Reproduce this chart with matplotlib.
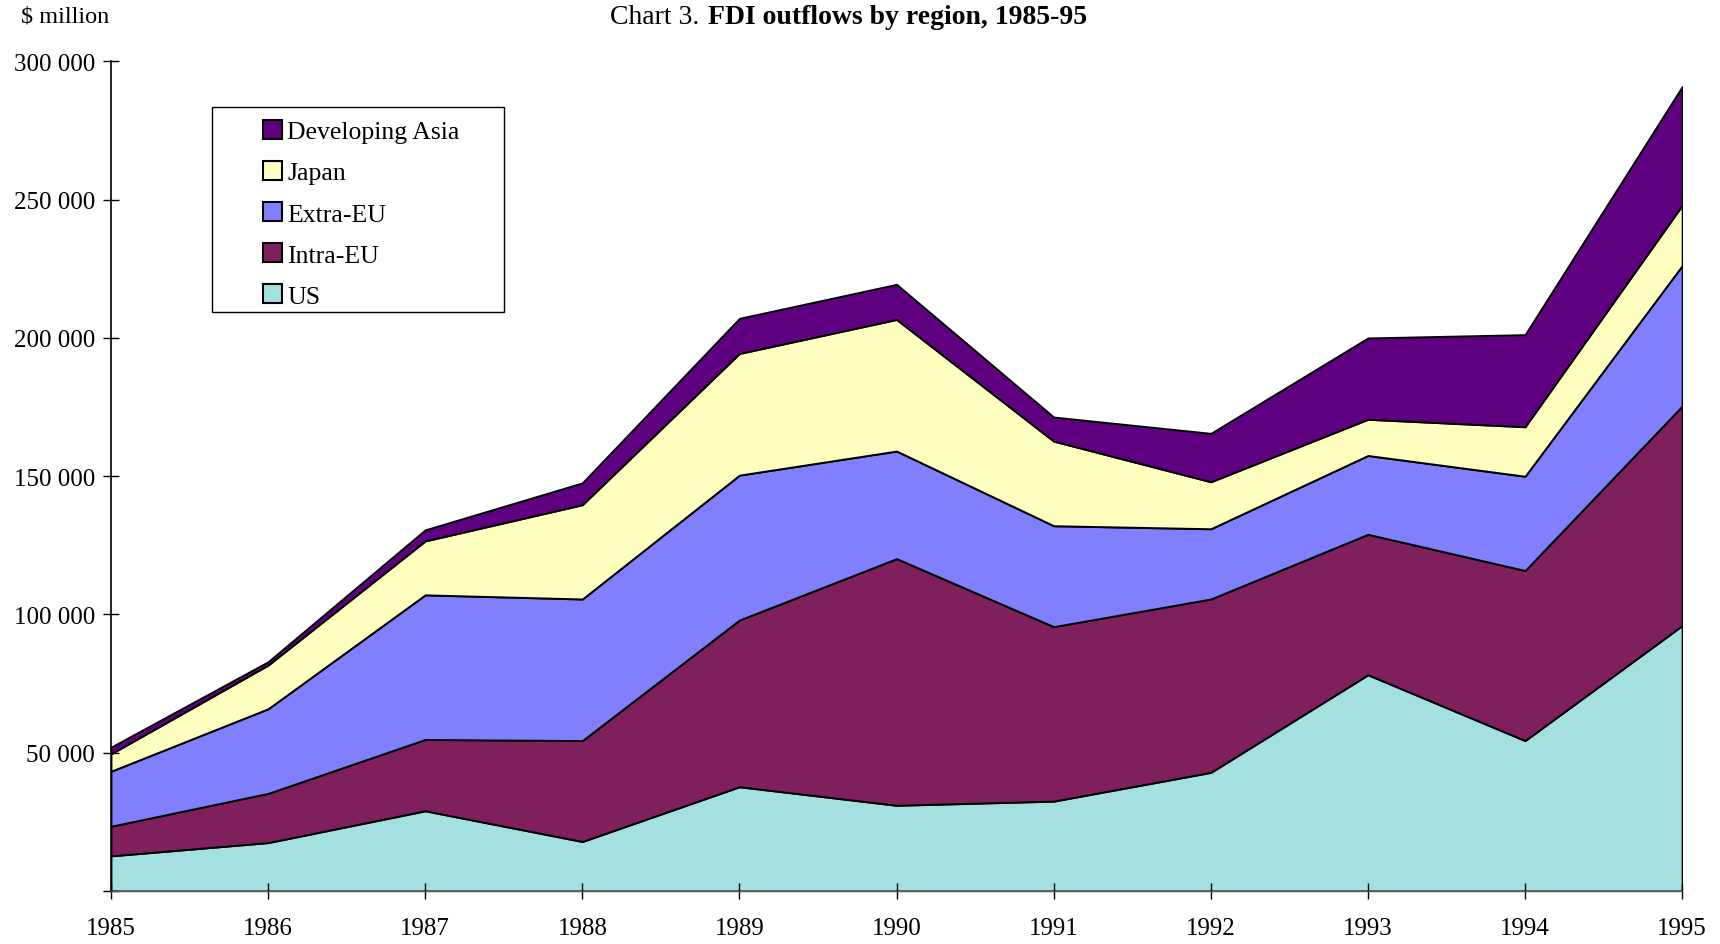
import matplotlib.pyplot as plt
import numpy as np
from matplotlib.patches import Patch, Rectangle
from matplotlib.ticker import FuncFormatter

plt.rcParams['font.family'] = ['Liberation Serif', 'DejaVu Serif']

years = [1985, 1986, 1987, 1988, 1989, 1990, 1991, 1992, 1993, 1994, 1995]
# $ million
us = [12700, 17500, 29000, 17900, 37700, 31000, 32500, 42900, 78200, 54400, 96000]
intra_eu = [10700, 17800, 25800, 36500, 60300, 89200, 63100, 62700, 50800, 61500, 79400]
extra_eu = [19900, 30600, 52300, 51200, 52400, 38900, 36500, 25400, 28500, 34100, 50800]
japan = [6300, 15800, 19500, 34100, 44000, 47600, 30600, 17000, 13100, 17900, 21800]
dev_asia = [2400, 1200, 4000, 7900, 12700, 12700, 8700, 17500, 29400, 33300, 42900]

labels = ['US', 'Intra-EU', 'Extra-EU', 'Japan', 'Developing Asia']
colors = ['#A4E0E0', '#7F1F5C', '#8080FF', '#FFFFC0', '#5E0080']

fig = plt.figure(figsize=(17.2, 9.45), dpi=100)
ax = fig.add_axes([0.0645, 0.0561, 0.9135, 0.8778])

ax.stackplot(years, us, intra_eu, extra_eu, japan, dev_asia,
             colors=colors, edgecolor='black', linewidth=1.4)

ax.set_xlim(1985, 1995)
ax.set_ylim(0, 300000)
ax.set_xticks(years)
ax.set_yticks(np.arange(0, 300001, 50000))
ax.yaxis.set_major_formatter(FuncFormatter(lambda v, p: '' if v == 0 else f'{int(v):,}'.replace(',', ' ')))
ax.tick_params(axis='both', labelsize=18, direction='inout', length=11, width=1)
ax.tick_params(axis='x', pad=13, colors='black')
ax.tick_params(axis='y', pad=6)

for s in ['top', 'right']:
    ax.spines[s].set_visible(False)
ax.spines['left'].set_linewidth(1.2)
ax.spines['bottom'].set_color('#555555')
ax.spines['bottom'].set_linewidth(1)

fig.text(0.012, 0.982, '$ million', fontsize=17.5, va='center', ha='left')
fig.text(0.4065, 0.982, 'Chart 3.', fontsize=20, va='center', ha='right')
fig.text(0.4115, 0.982, 'FDI outflows by region, 1985-95', fontsize=20,
         fontweight='bold', va='center', ha='left')

# legend box
fig.patches.append(Rectangle((212 / 1720, 1 - 313 / 945), 292 / 1720, 205 / 945,
                             transform=fig.transFigure, facecolor='white',
                             edgecolor='black', linewidth=1, zorder=5))
handles = [Patch(facecolor=c, edgecolor='black', linewidth=1.5) for c in colors][::-1]
leg = fig.legend(handles, labels[::-1], loc='upper left',
                 bbox_to_anchor=(263 / 1720, 1 - 121 / 945), frameon=False,
                 fontsize=18.5, handlelength=0.75, handleheight=0.75,
                 handletextpad=0.2, labelspacing=0.69, borderpad=0, borderaxespad=0)
leg.set_zorder(6)

fig.savefig('out.png', dpi=100)
